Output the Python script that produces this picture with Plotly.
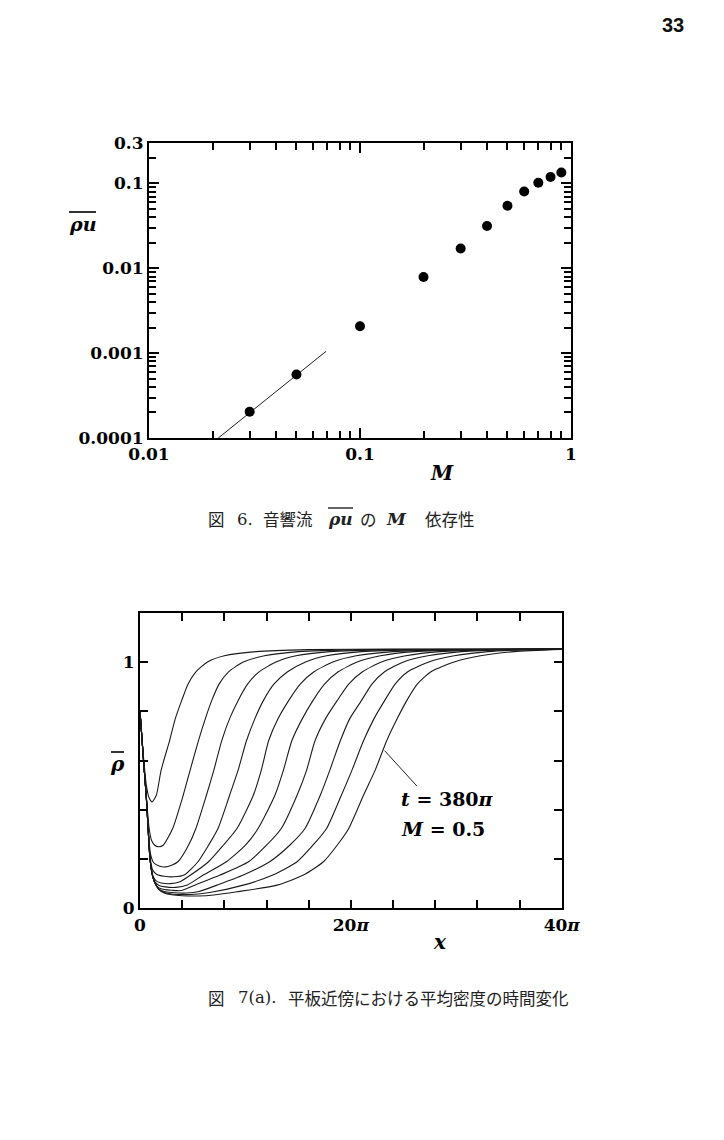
import plotly.graph_objects as go

# ---------------- Figure 6 data ----------------
M_vals = [0.03, 0.05, 0.1, 0.2, 0.3, 0.4, 0.5, 0.6, 0.7, 0.8, 0.9]
rhou_vals = [2.04e-4, 5.6e-4, 2.08e-3, 7.9e-3, 0.0171, 0.0315, 0.0547, 0.0805, 0.102, 0.119, 0.135]
fit_M = [0.0213, 0.069]
fit_rhou = [1.0e-4, 1.05e-3]

x6_tickvals = [0.01, 0.1, 1]
x6_ticktext = ["0.01", "0.1", "1"]
y6_tickvals = [1e-4, 1e-3, 1e-2, 0.1, 0.3]
y6_ticktext = ["0.0001", "0.001", "0.01", "0.1", "0.3"]

# ---------------- Figure 7(a) data (x in units of pi) ----------------
c1_x = [0, 0.3, 0.6, 0.85, 1.15, 1.55, 2.0, 2.8, 3.35, 3.95, 4.55, 5.3, 6.4, 8.0, 11.0, 16.0, 24.0, 40.0]
c1_r = [0.80, 0.63, 0.50, 0.45, 0.432, 0.459, 0.56, 0.68, 0.77, 0.843, 0.91, 0.96, 1.0, 1.025, 1.042, 1.05, 1.052, 1.052]

c2_x = [0, 0.3, 0.6, 0.85, 1.1, 1.4, 1.74, 2.2, 3.1, 4.1, 4.75, 5.54, 6.2, 6.8, 7.5, 8.4, 9.8, 11.8, 15.0, 21.0, 40.0]
c2_r = [0.80, 0.62, 0.455, 0.33, 0.275, 0.256, 0.25, 0.256, 0.324, 0.459, 0.56, 0.68, 0.77, 0.843, 0.91, 0.96, 1.0, 1.025, 1.042, 1.05, 1.052]

c3_x = [0, 0.3, 0.6, 0.82, 1.0, 1.3, 1.8, 2.4, 3.0, 3.6, 4.6, 5.3, 6.3, 7.0, 7.75, 8.5, 9.3, 10.2, 11.3, 12.9, 14.8, 18.0, 24.0, 40.0]
c3_r = [0.80, 0.62, 0.45, 0.30, 0.22, 0.185, 0.172, 0.168, 0.175, 0.189, 0.256, 0.324, 0.459, 0.56, 0.68, 0.77, 0.843, 0.91, 0.96, 1.0, 1.025, 1.042, 1.05, 1.052]

c4_x = [0, 0.3, 0.6, 0.8, 0.95, 1.2, 1.6, 2.3, 3.2, 4.2, 5.5, 6.5, 7.4, 8.5, 9.3, 10.1, 10.9, 11.7, 12.7, 14.0, 15.7, 17.7, 21.0, 27.0, 40.0]
c4_r = [0.80, 0.62, 0.45, 0.30, 0.21, 0.155, 0.137, 0.13, 0.128, 0.135, 0.189, 0.256, 0.324, 0.459, 0.56, 0.68, 0.77, 0.843, 0.91, 0.96, 1.0, 1.025, 1.042, 1.05, 1.052]

c5_x = [0, 0.3, 0.6, 0.8, 0.95, 1.2, 1.5, 2.0, 2.9, 3.8, 4.8, 6.5, 7.9, 9.2, 10.75, 11.5, 12.2, 13.1, 14.1, 15.2, 16.5, 18.3, 20.5, 24.0, 30.0, 40.0]
c5_r = [0.80, 0.62, 0.45, 0.30, 0.20, 0.135, 0.112, 0.103, 0.10, 0.108, 0.135, 0.189, 0.256, 0.324, 0.459, 0.56, 0.68, 0.77, 0.843, 0.91, 0.96, 1.0, 1.025, 1.042, 1.05, 1.052]

c6_x = [0, 0.3, 0.6, 0.8, 0.95, 1.2, 1.45, 1.8, 2.4, 3.4, 4.5, 6.0, 8.2, 10.0, 11.2, 12.8, 13.6, 14.4, 15.4, 16.4, 17.5, 18.8, 20.6, 22.8, 26.0, 32.0, 40.0]
c6_r = [0.80, 0.62, 0.45, 0.30, 0.20, 0.13, 0.105, 0.093, 0.087, 0.085, 0.095, 0.135, 0.189, 0.256, 0.324, 0.459, 0.56, 0.68, 0.77, 0.843, 0.91, 0.96, 1.0, 1.025, 1.042, 1.05, 1.052]

c7_x = [0, 0.3, 0.6, 0.8, 0.95, 1.2, 1.45, 1.8, 2.3, 3.0, 3.9, 5.2, 7.6, 10.3, 12.0, 13.4, 14.9, 15.8, 16.6, 17.6, 18.7, 19.8, 21.1, 22.9, 25.2, 28.5, 34.0, 40.0]
c7_r = [0.80, 0.62, 0.45, 0.30, 0.20, 0.13, 0.10, 0.083, 0.076, 0.073, 0.072, 0.094, 0.135, 0.189, 0.256, 0.324, 0.459, 0.56, 0.68, 0.77, 0.843, 0.91, 0.96, 1.0, 1.025, 1.042, 1.05, 1.052]

c8_x = [0, 0.3, 0.6, 0.8, 0.95, 1.2, 1.45, 1.8, 2.3, 3.0, 4.4, 5.6, 7.3, 9.8, 12.3, 14.2, 15.65, 17.1, 18.0, 19.0, 19.9, 21.0, 22.0, 23.2, 25.0, 27.3, 30.5, 35.0, 40.0]
c8_r = [0.80, 0.62, 0.45, 0.30, 0.20, 0.13, 0.10, 0.078, 0.068, 0.064, 0.062, 0.068, 0.094, 0.135, 0.189, 0.256, 0.324, 0.459, 0.56, 0.68, 0.77, 0.843, 0.91, 0.96, 1.0, 1.025, 1.042, 1.05, 1.052]

c9_x = [0, 0.3, 0.6, 0.8, 0.95, 1.2, 1.45, 1.8, 2.3, 3.0, 3.9, 4.9, 6.6, 9.8, 12.6, 14.9, 16.4, 17.7, 19.1, 20.1, 21.2, 22.2, 23.2, 24.2, 25.4, 27.4, 29.8, 33.0, 37.0, 40.0]
c9_r = [0.80, 0.62, 0.45, 0.30, 0.20, 0.13, 0.10, 0.077, 0.064, 0.058, 0.056, 0.056, 0.064, 0.094, 0.135, 0.189, 0.256, 0.324, 0.459, 0.56, 0.68, 0.77, 0.843, 0.91, 0.96, 1.0, 1.025, 1.042, 1.05, 1.052]

c10_x = [0, 0.3, 0.6, 0.8, 0.95, 1.2, 1.45, 1.8, 2.3, 3.0, 4.0, 5.5, 7.0, 9.2, 13.0, 15.5, 17.4, 18.7, 19.8, 21.2, 22.3, 23.4, 24.4, 25.3, 26.3, 27.6, 29.8, 32.3, 35.5, 40.0]
c10_r = [0.80, 0.62, 0.45, 0.30, 0.20, 0.13, 0.10, 0.076, 0.062, 0.055, 0.051, 0.05, 0.054, 0.067, 0.094, 0.135, 0.189, 0.256, 0.324, 0.459, 0.56, 0.68, 0.77, 0.843, 0.91, 0.96, 1.0, 1.025, 1.042, 1.051]

curves_x = [c1_x, c2_x, c3_x, c4_x, c5_x, c6_x, c7_x, c8_x, c9_x, c10_x]
curves_r = [c1_r, c2_r, c3_r, c4_r, c5_r, c6_r, c7_r, c8_r, c9_r, c10_r]

x7_tickvals = [0, 4, 8, 12, 16, 20, 24, 28, 32, 36, 40]
x7_ticktext = ["0", "", "", "", "", "20<i>π</i>", "", "", "", "", "40<i>π</i>"]
y7_tickvals = [0, 0.2, 0.4, 0.6, 0.8, 1.0]
y7_ticktext = ["0", "", "", "", "", "1"]

W, H = 724, 1140
SERIF = "DejaVu Serif"
CJK = "Noto Sans CJK JP"
CAP_SIZE = 16.5
CAP_COLOR = "#222"

def px(x):
    return x / W

def py(y):
    return 1 - y / H

fig = go.Figure()

fig.add_trace(go.Scatter(x=fit_M, y=fit_rhou, mode="lines",
                         line=dict(color="#222", width=1), xaxis="x", yaxis="y",
                         showlegend=False, cliponaxis=True))
fig.add_trace(go.Scatter(x=M_vals, y=rhou_vals, mode="markers",
                         marker=dict(color="black", size=10), xaxis="x", yaxis="y",
                         showlegend=False))

for cx, cr in zip(curves_x, curves_r):
    fig.add_trace(go.Scatter(x=cx, y=cr, mode="lines",
                             line=dict(color="#1a1a1a", width=1.1, shape="spline", smoothing=0.6),
                             xaxis="x2", yaxis="y2", showlegend=False))

tickfont = dict(family=SERIF, size=17, color="black", weight="bold")

minor_x6 = [m * 10 ** e for e in (-2, -1) for m in range(2, 10)]
minor_y6 = [m * 10 ** e for e in (-4, -3, -2) for m in range(2, 10)] + [0.2]

common = dict(showline=True, linecolor="black", linewidth=2, mirror="ticks",
              ticks="inside", tickcolor="black", tickwidth=1.5, automargin=False,
              showgrid=False, zeroline=False, tickfont=tickfont)

fig.update_layout(
    width=W, height=H,
    margin=dict(l=0, r=0, t=0, b=0),
    paper_bgcolor="white", plot_bgcolor="white",
    showlegend=False,
    xaxis=dict(type="log", range=[-2, 0], domain=[px(149), px(571)], anchor="y",
               tickmode="array", tickvals=x6_tickvals, ticktext=x6_ticktext, ticklen=10,
               minor=dict(ticks="inside", ticklen=7, tickwidth=1.5, tickcolor="black",
                          tickmode="array", tickvals=minor_x6, showgrid=False),
               **common),
    yaxis=dict(type="log", range=[-4, -0.5229], domain=[py(438), py(143)], anchor="x",
               tickmode="array", tickvals=y6_tickvals, ticktext=y6_ticktext, ticklen=10,
               minor=dict(ticks="inside", ticklen=7, tickwidth=1.5, tickcolor="black",
                          tickmode="array", tickvals=minor_y6, showgrid=False),
               **common),
    xaxis2=dict(range=[0, 40], domain=[px(140), px(561.7)], anchor="y2",
                tickmode="array", tickvals=x7_tickvals, ticktext=x7_ticktext, ticklen=8,
                **common),
    yaxis2=dict(range=[0, 1.2], domain=[py(908.3), py(612.7)], anchor="x2",
                tickmode="array", tickvals=y7_tickvals, ticktext=y7_ticktext, ticklen=8,
                **common),
)

def ann(x, y, text, size, family=SERIF, xanchor="center", yanchor="middle", color="black"):
    fig.add_annotation(x=px(x), y=py(y), xref="paper", yref="paper", text=text,
                       showarrow=False, xanchor=xanchor, yanchor=yanchor, borderpad=0,
                       font=dict(family=family, size=size, color=color))

def overline(x0, x1, y, width=1.6, color="black"):
    fig.add_shape(type="line", xref="paper", yref="paper",
                  x0=px(x0), x1=px(x1), y0=py(y), y1=py(y),
                  line=dict(color=color, width=width))

# page number
ann(673, 25, "<b>33</b>", 20, family="Liberation Sans", color="#111")

# fig 6 axis titles
ann(82, 224, "<b><i>ρu</i></b>", 19)
overline(69, 96, 212)
ann(442, 473, "<b><i>M</i></b>", 20)

# fig 6 caption, set piece by piece like the typeset original
CAP1_Y = 519
ann(207, CAP1_Y, "図", CAP_SIZE, family=CJK, xanchor="left", color=CAP_COLOR)
ann(236, CAP1_Y, "6.", CAP_SIZE, family=SERIF, xanchor="left", color=CAP_COLOR)
ann(262, CAP1_Y, "音響流", CAP_SIZE, family=CJK, xanchor="left", color=CAP_COLOR)
ann(340, CAP1_Y, "<b><i>ρu</i></b>", 17, color=CAP_COLOR)
overline(328, 353, CAP1_Y - 11, width=1.4, color=CAP_COLOR)
ann(359, CAP1_Y, "の", CAP_SIZE, family=CJK, xanchor="left", color=CAP_COLOR)
ann(396, CAP1_Y, "<b><i>M</i></b>", 17, color=CAP_COLOR)
ann(424, CAP1_Y, "依存性", CAP_SIZE, family=CJK, xanchor="left", color=CAP_COLOR)

# fig 7 axis titles
ann(117, 764, "<b><i>ρ</i></b>", 20)
overline(111, 124, 752)
ann(440, 942, "<b><i>x</i></b>", 20)

# leader line for label
fig.add_annotation(x=23.2, y=0.64, ax=26.4, ay=0.49, xref="x2", yref="y2",
                   axref="x2", ayref="y2", text="", showarrow=True, arrowhead=0,
                   arrowwidth=1, arrowcolor="#222")
ann(400, 799, "<b><i>t</i> = 380<i>π</i></b>", 19, xanchor="left")
ann(400, 829, "<b><i>M</i> = 0.5</b>", 19, xanchor="left")

# fig 7 caption
CAP2_Y = 998
ann(207, CAP2_Y, "図", CAP_SIZE, family=CJK, xanchor="left", color=CAP_COLOR)
ann(237, CAP2_Y, "7(a).", CAP_SIZE, family=SERIF, xanchor="left", color=CAP_COLOR)
ann(287, CAP2_Y, "平板近傍における平均密度の時間変化", CAP_SIZE, family=CJK,
    xanchor="left", color=CAP_COLOR)

fig.write_html("out.html")
